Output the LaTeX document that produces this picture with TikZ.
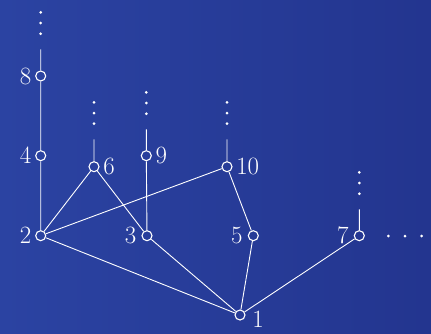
\documentclass[tikz,border=0pt]{standalone}
\definecolor{bgleft}{RGB}{43,67,162}
\definecolor{bgright}{RGB}{35,53,143}
\tikzset{
  elem/.style={circle,draw=white,line width=1.1pt,inner sep=0pt,minimum size=10pt},
  lbl/.style={text=white,font=\fontsize{25}{30}\selectfont},
}
\begin{document}
\begin{tikzpicture}[x=1pt,y=-1pt,line width=0.9pt]
  \shade[left color=bgleft,right color=bgright] (0,0) rectangle (431,333);
  % the elements
  \node[elem,label={[lbl]left:$8$}] (n8) at (40.7,76) {};
  \node[elem,label={[lbl]left:$4$}] (n4) at (40.7,155.7) {};
  \node[elem,label={[lbl]left:$2$}] (n2) at (40.7,235.7) {};
  \node[elem,label={[lbl]right:$6$}] (n6) at (94,166.7) {};
  \node[elem,label={[lbl]right:$9$}] (n9) at (146.3,155.7) {};
  \node[elem,label={[lbl,label distance=1.5pt]left:$3$}] (n3) at (147,235.7) {};
  \node[elem,label={[lbl]right:$10$}] (n10) at (227,166.7) {};
  \node[elem,label={[lbl,label distance=1.5pt]left:$5$}] (n5) at (253.3,235.7) {};
  \node[elem,label={[lbl,label distance=1.5pt]left:$7$}] (n7) at (359.3,235.7) {};
  \node[elem,label={[lbl,label distance=3pt,yshift=-4pt]right:$1$}] (n1) at (240,315) {};
  % open ends
  \coordinate (t8) at (40.7,49.3);
  \coordinate (t6) at (94,139.3);
  \coordinate (t9) at (146.3,129.3);
  \coordinate (t10) at (227,139.3);
  \coordinate (t7) at (359.3,209.3);
  % covering relations
  \draw[white] (n1)--(n2)--(n4)--(n8)--(t8);
  \draw[white] (n2)--(n6)--(t6);
  \draw[white] (n2)--(n10)--(t10);
  \draw[white] (n1)--(n3)--(n9)--(t9);
  \draw[white] (n3)--(n6);
  \draw[white] (n1)--(n5)--(n10);
  \draw[white] (n1)--(n7)--(t7);
  % dots
  \foreach \c in {t8,t6,t9,t10,t7}
    \foreach \d in {15.6,26.3,37}
      \fill[white] ([yshift=\d pt]\c) circle (1.5pt);
  \foreach \x in {388.3,405,421.7}
    \fill[white] (\x,236) circle (1.5pt);
\end{tikzpicture}
\end{document}
